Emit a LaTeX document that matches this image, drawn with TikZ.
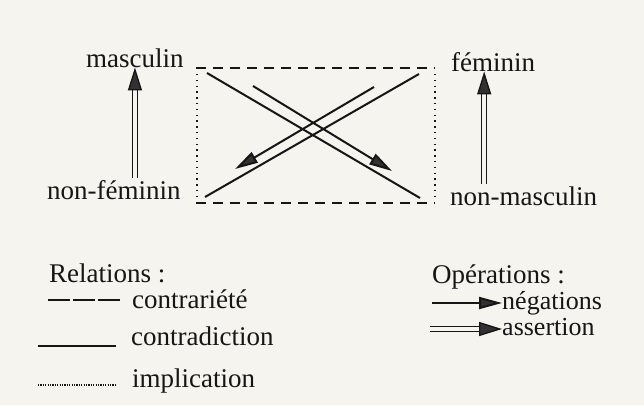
\documentclass[tikz,border=0pt]{standalone}
\usepackage{fontspec}
\setmainfont{Liberation Serif}
\usetikzlibrary{arrows.meta}
\definecolor{paper}{RGB}{246,244,238}
\definecolor{ink}{RGB}{22,22,22}
\definecolor{tipc}{RGB}{50,50,50}
\begin{document}
\begin{tikzpicture}[x=1pt,y=-1pt,
  lbl/.style={font=\fontsize{27}{30}\selectfont, text=ink, inner sep=0pt, anchor=base west},
  contrline/.style={draw=ink, line width=1.7pt, dash pattern=on 10pt off 7pt},
  implline/.style={draw=ink, line width=1.7pt, dash pattern=on 1.4pt off 4.4pt},
  crossline/.style={draw=ink, line width=2pt},
  negarrow/.style={draw=ink, line width=2pt, -{Triangle[length=23pt,width=12pt,fill=tipc]}},
  assertarrow/.style={draw=ink, line width=1.4pt, double=paper, double distance=3.4pt,
     -{Triangle[length=23pt,width=14pt,fill=tipc]}},
  legcontr/.style={draw=ink, line width=1.5pt, dash pattern=on 22pt off 3pt},
  legcontra/.style={draw=ink, line width=1.5pt},
  legimpl/.style={draw=ink, line width=1.3pt, dash pattern=on 1.1pt off 1.3pt},
]
\fill[paper] (0,0) rectangle (644,405);
\useasboundingbox (0,0) rectangle (644,405);

% terms
\node[lbl] (masc) at (86,67) {masculin};
\node[lbl] (nonfem) at (47,199) {non-féminin};
\node[lbl] (fem) at (451,71) {féminin};
\node[lbl] (nonmasc) at (450,205) {non-masculin};

% assertion arrows
\draw[assertarrow] ([yshift=2pt]masc.south |- nonfem.north) -- (masc.south);
\draw[assertarrow] ([xshift=-9pt,yshift=2pt]fem.south |- nonmasc.north) -- ([xshift=-9pt]fem.south);

% box
\coordinate (tl) at (196,68);
\coordinate (tr) at (435,68);
\coordinate (bl) at (196,203);
\coordinate (br) at (435,203);
\coordinate (tlv) at (197,74);
\coordinate (blv) at (197,198);
\coordinate (trv) at (435,74);
\coordinate (brv) at (435,198);
\draw[contrline] (tl) -- (tr);
\draw[contrline] (bl) -- (br);
\draw[implline] (tlv) -- (blv);
\draw[implline] (trv) -- (brv);

% cross
\coordinate (a1) at (207,73);
\coordinate (a2) at (420,198);
\coordinate (b1) at (205,197);
\coordinate (b2) at (419,74);
\coordinate (c1) at (374,87);
\coordinate (c2) at (235,169);
\coordinate (d1) at (253,86);
\coordinate (d2) at (392,171);
\draw[crossline] (a1) -- (a2);
\draw[crossline] (b1) -- (b2);
\draw[negarrow] (c1) -- (c2);
\draw[negarrow] (d1) -- (d2);

% legend: relations
\node[lbl] (rel) at (49,282) {Relations :};
\node[lbl] (ctr) at (132,308) {contrariété};
\node[lbl] (cdn) at (131,345) {contradiction};
\node[lbl] (imp) at (132,387) {implication};
\coordinate (l1a) at (48,300);
\coordinate (l1b) at (120,300);
\coordinate (l2a) at (38,346);
\coordinate (l2b) at (116,346);
\coordinate (l3a) at (38,385);
\coordinate (l3b) at (117,385);
\draw[legcontr] (l1a) -- (l1b);
\draw[legcontra] (l2a) -- (l2b);
\draw[legimpl] (l3a) -- (l3b);

% legend: operations
\node[lbl] (ops) at (432,283) {Opérations :};
\node[lbl, font=\fontsize{26}{30}\selectfont] (neg) at (502,309) {négations};
\node[lbl, font=\fontsize{26}{30}\selectfont] (ass) at (502,335) {assertion};
\coordinate (o1) at (432,303);
\coordinate (o2) at (430,329);
\draw[negarrow] (o1) -- (o1 -| neg.west);
\draw[assertarrow] (o2) -- (o2 -| ass.west);
\end{tikzpicture}
\end{document}
